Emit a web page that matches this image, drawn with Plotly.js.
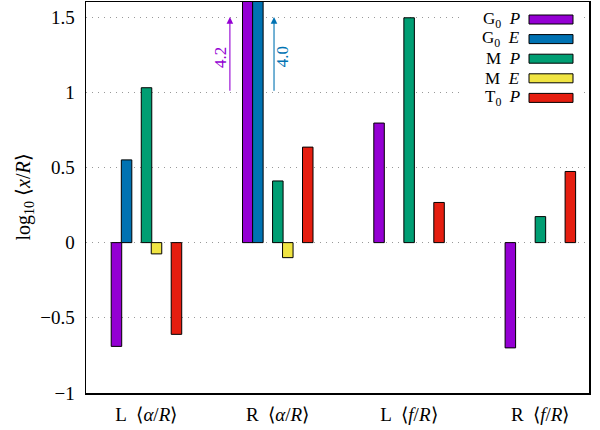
<!DOCTYPE html>
<html>
<head>
<meta charset="utf-8">
<script src="https://cdn.plot.ly/plotly-3.0.1.min.js"></script>
<style>html,body{margin:0;padding:0;background:#fff;}#chart{width:600px;height:430px;}</style>
</head>
<body>
<div id="chart"></div>
<script>
// ---- data ----
const categories = ['L&nbsp; ⟨<i>α</i>/<i>R</i>⟩', 'R&nbsp; ⟨<i>α</i>/<i>R</i>⟩', 'L&nbsp; ⟨<i>f</i>/<i>R</i>⟩', 'R&nbsp; ⟨<i>f</i>/<i>R</i>⟩'];
const seriesNames = ['G<sub>0</sub>&nbsp; <i>P</i>', 'G<sub>0</sub>&nbsp; <i>E</i>', 'M&nbsp; <i>P</i>', 'M&nbsp; <i>E</i>', 'T<sub>0</sub>&nbsp; <i>P</i>'];
const G0_P = [-0.69, 4.2, 0.795, -0.70];
const G0_E = [0.55, 4.0, null, null];
const M_P = [1.03, 0.41, 1.495, 0.173];
const M_E = [-0.075, -0.10, null, null];
const T0_P = [-0.61, 0.635, 0.267, 0.473];
const clippedLabels = ['4.2', '4.0'];
const yTicks = [-1, -0.5, 0, 0.5, 1, 1.5];
const yTickText = ['\u22121', '\u22120.5', '0', '0.5', '1', '1.5'];

// ---- styling ----
const colors = ['#9400D3', '#0072B2', '#009E73', '#F0E442', '#E51E10'];
const offsets = [-0.267, -0.190, -0.038, 0.038, 0.190];
const barW = 0.08;
const FONT = '"Liberation Serif", serif';
const allSeries = [G0_P, G0_E, M_P, M_E, T0_P];

const traces = allSeries.map((vals, i) => ({
  type: 'bar',
  x: categories,
  y: vals,
  name: seriesNames[i],
  width: barW,
  offset: offsets[i],
  marker: {color: colors[i], line: {color: '#000', width: 1}},
  showlegend: false,
  cliponaxis: true,
  hoverinfo: 'skip'
}));

// custom legend (text right, swatch on right like gnuplot)
const shapes = [];
const annotations = [];
const rowY0 = 19.5, rowStep = 19.6; // px from top
const plotTop = 2, plotH = 391, plotL = 86, plotW = 503;
const pxToPy = y => (plotTop + plotH - y) / plotH;
const pxToPx = x => (x - plotL) / plotW;
shapes.push({type: 'rect', xref: 'paper', yref: 'paper', x0: pxToPx(462), x1: pxToPx(583),
  y0: pxToPy(108), y1: pxToPy(8), fillcolor: '#fff', line: {width: 0}, layer: 'above'});
seriesNames.forEach((nm, i) => {
  const yc = rowY0 + i * rowStep;
  shapes.push({type: 'rect', xref: 'paper', yref: 'paper', x0: pxToPx(529), x1: pxToPx(573),
    y0: pxToPy(yc + 4.5), y1: pxToPy(yc - 4.5), fillcolor: colors[i], line: {color: '#000', width: 1}, layer: 'above'});
  annotations.push({xref: 'paper', yref: 'paper', x: pxToPx(521), y: pxToPy(yc), xanchor: 'right', yanchor: 'middle',
    text: nm, showarrow: false, font: {family: FONT, size: 17, color: '#000'}, borderpad: 0});
});

// arrows for clipped bars
const arrowX = [0.637, 0.973];
const labelX = [0.561, 1.034];
[0, 1].forEach(i => {
  annotations.push({xref: 'x', yref: 'y', axref: 'x', ayref: 'y', x: arrowX[i], y: 1.5, ax: arrowX[i], ay: 1.0,
    text: '', showarrow: true, arrowhead: 2, arrowsize: 1.2, arrowwidth: 1.1, arrowcolor: colors[i], standoff: 0, startstandoff: 0});
  annotations.push({xref: 'x', yref: 'y', x: labelX[i], y: 1.233, text: clippedLabels[i], textangle: -90, showarrow: false,
    font: {family: FONT, size: 17, color: colors[i]}, xanchor: 'center', yanchor: 'middle'});
});

// y axis title
annotations.push({xref: 'paper', yref: 'paper', x: pxToPx(24), y: 0.5, xanchor: 'center', yanchor: 'middle', textangle: -90,
  text: 'log<sub>10</sub> ⟨<i>x</i>/<i>R</i>⟩', showarrow: false, font: {family: FONT, size: 20, color: '#000'}});

const layout = {
  width: 600, height: 430,
  margin: {l: 86, r: 11, t: 2, b: 37, pad: 0},
  paper_bgcolor: '#fff', plot_bgcolor: '#fff',
  barmode: 'overlay',
  font: {family: FONT, size: 19, color: '#000'},
  xaxis: {type: 'category', range: [-0.459, 3.372], showgrid: false, zeroline: false, ticks: '',
    showline: true, linecolor: '#000', linewidth: 1.5, mirror: true, tickfont: {family: FONT, size: 19}, ticklabelstandoff: 4},
  yaxis: {range: [-1, 1.6], tickvals: yTicks, ticktext: yTickText, showgrid: true, gridcolor: '#999', griddash: '1px,5px', gridwidth: 1,
    zeroline: false, ticks: '', showline: true, linecolor: '#000', linewidth: 1.5, mirror: true,
    tickfont: {family: FONT, size: 19}, ticklabelstandoff: 6},
  shapes: shapes,
  annotations: annotations,
  showlegend: false
};

Plotly.newPlot('chart', traces, layout, {displayModeBar: false, staticPlot: true});
</script>
</body>
</html>
